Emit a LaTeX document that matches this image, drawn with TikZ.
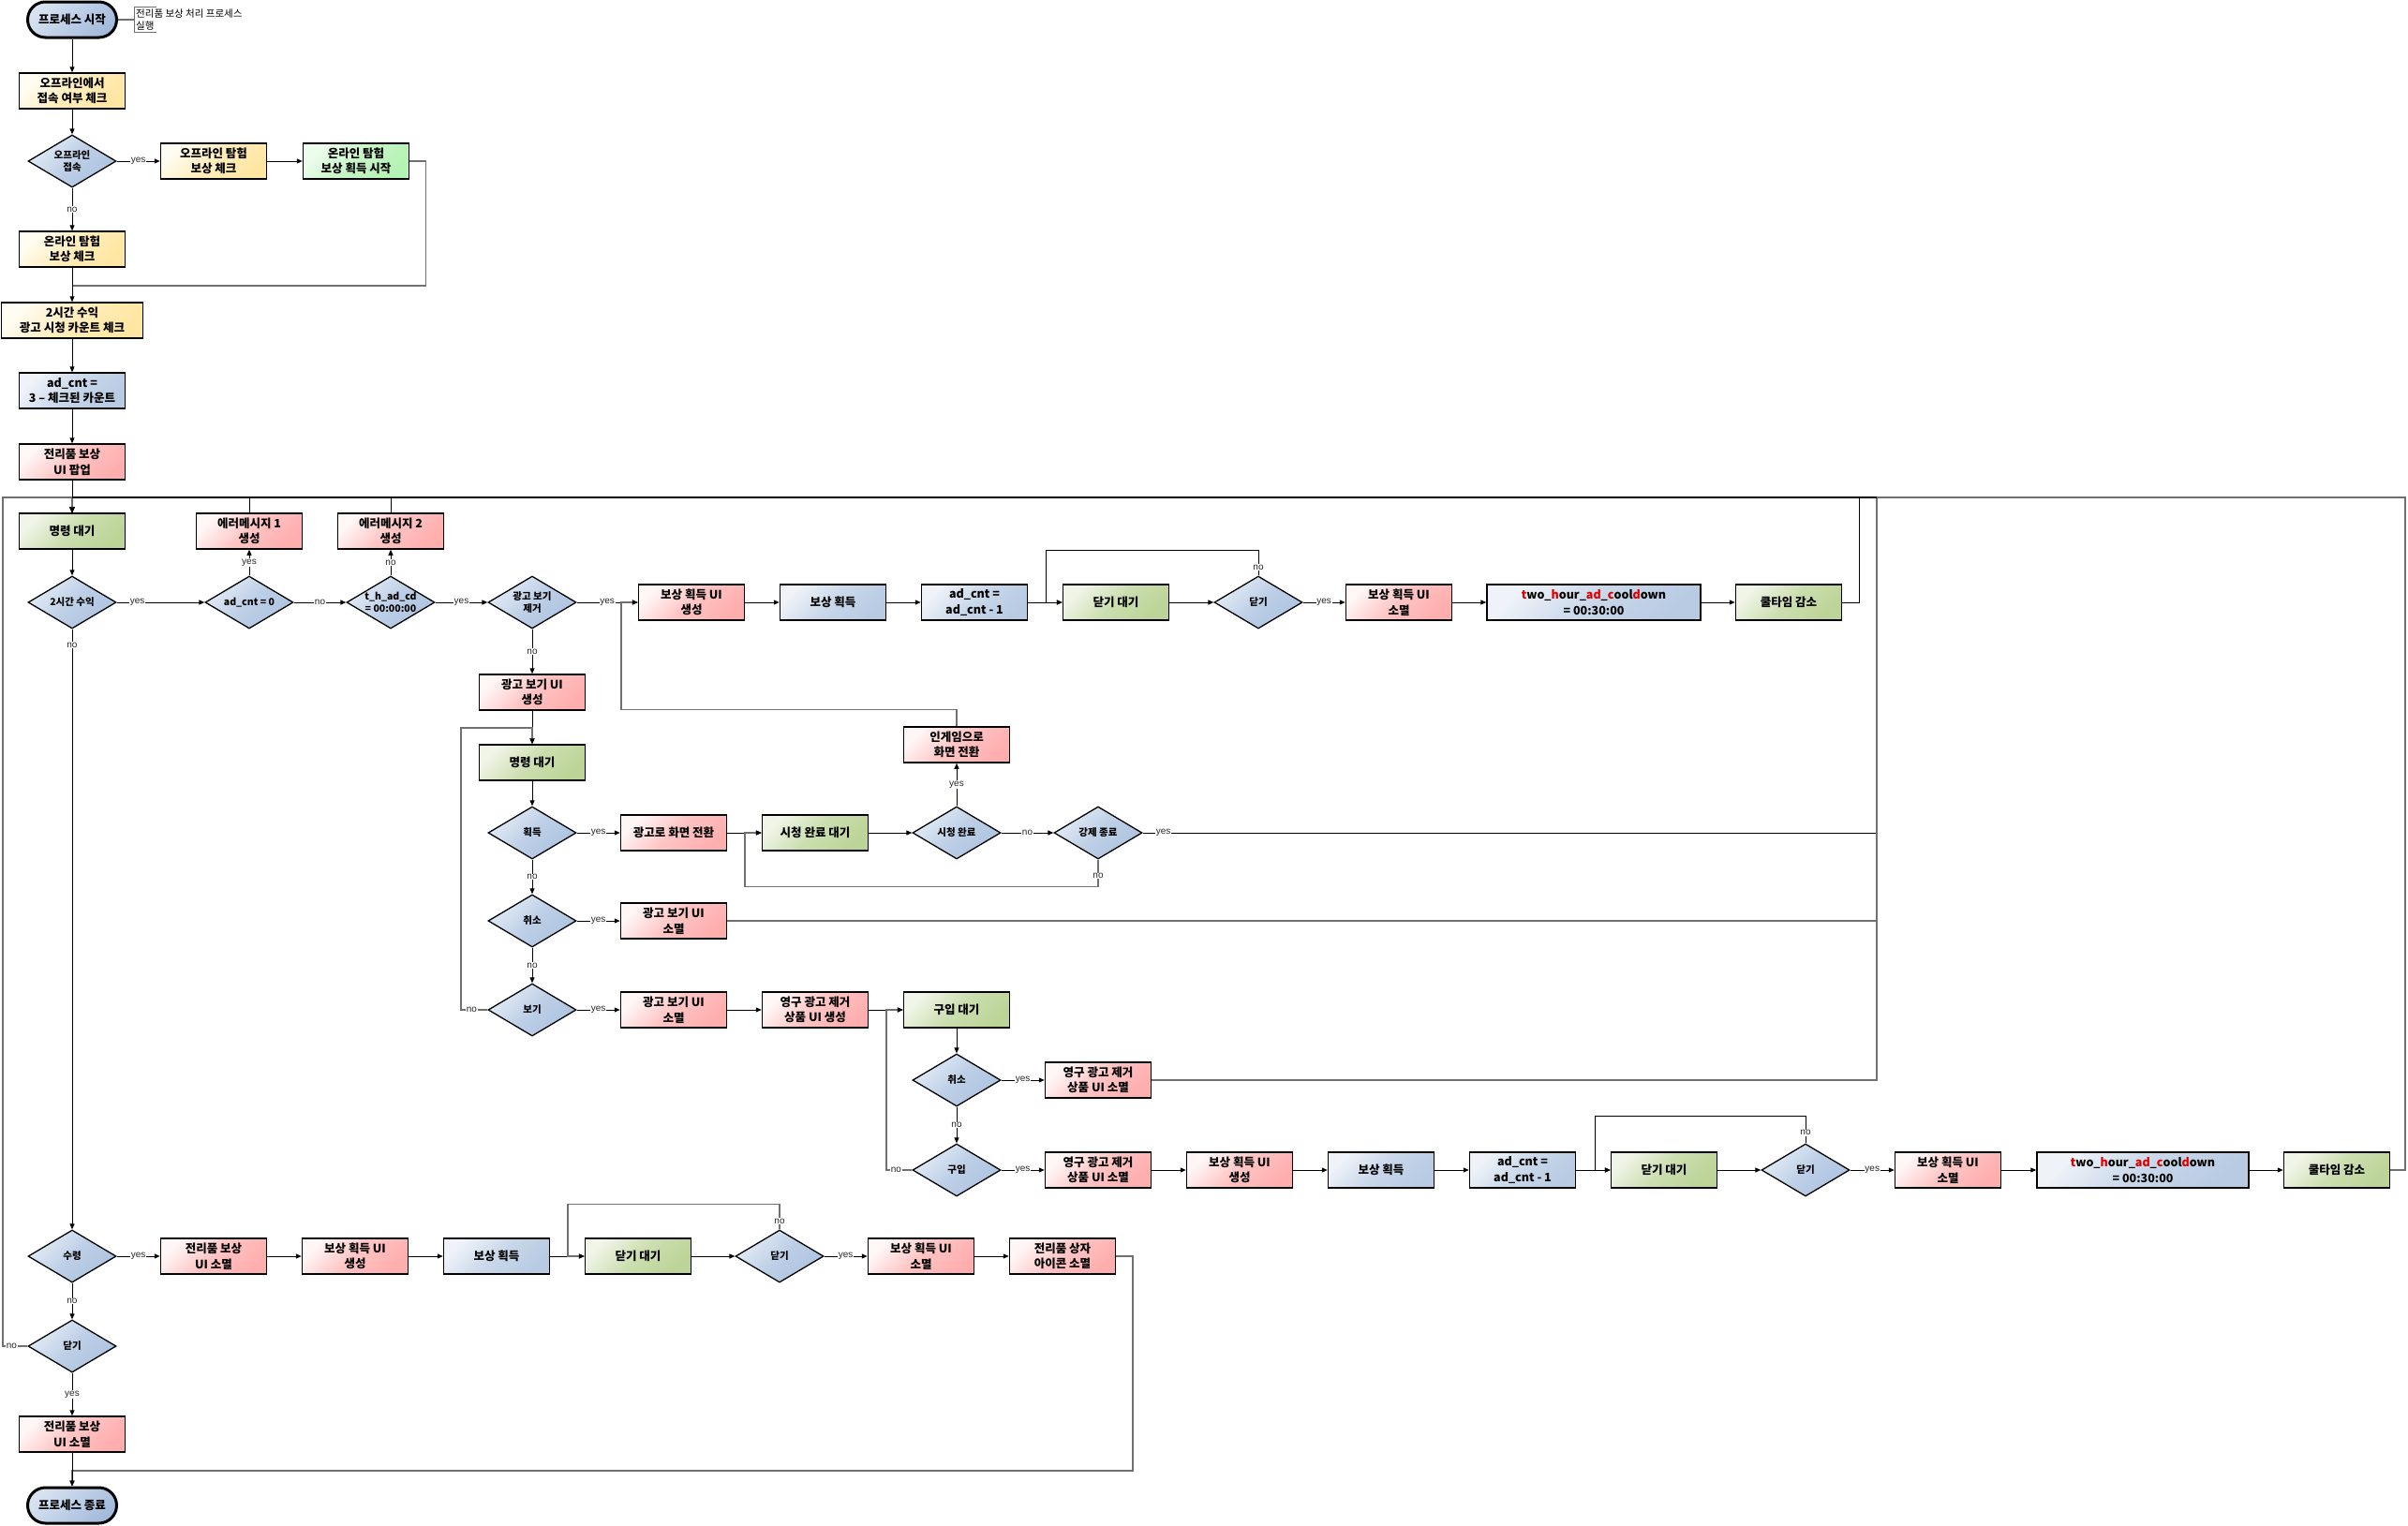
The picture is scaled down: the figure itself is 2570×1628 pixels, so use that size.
\documentclass[tikz,border=0pt]{standalone}
\usepackage{fontspec}
\usetikzlibrary{arrows.meta,shapes.geometric,calc}
\newfontfamily\kr{Noto Sans CJK KR}
\newfontfamily\lbf{Liberation Sans}
\definecolor{ylo1}{HTML}{FFFCF2}\definecolor{ylo2}{HTML}{FFE6A2}
\definecolor{grn1}{HTML}{EDFDED}\definecolor{grn2}{HTML}{B5F2B5}
\definecolor{olv1}{HTML}{F0F5E8}\definecolor{olv2}{HTML}{BCD497}
\definecolor{red1}{HTML}{FFF6F6}\definecolor{red2}{HTML}{FFAEAE}
\definecolor{blu1}{HTML}{EFF3F9}\definecolor{blu2}{HTML}{B8CBE3}
\definecolor{dia1}{HTML}{E4ECF6}\definecolor{dia2}{HTML}{ADC3E0}
\definecolor{ter1}{HTML}{D8E3F1}\definecolor{ter2}{HTML}{A4BADB}
\definecolor{cdred}{HTML}{E00000}
\definecolor{retc}{HTML}{707070}
\newcommand{\cdtxt}{\textcolor{cdred}{t}wo\_\textcolor{cdred}{h}our\_\textcolor{cdred}{ad}\_\textcolor{cdred}{c}ool\textcolor{cdred}{d}own}
\newcommand{\boxfont}{\kr\bfseries\fontsize{12.5}{16.5}\selectfont}
\newcommand{\diafont}{\kr\bfseries\fontsize{10.5}{13}\selectfont}
\tikzset{
  basebox/.style={rectangle, draw=black, line width=1.5pt, minimum width=113pt, minimum height=38pt,
    inner sep=1pt, align=center, font=\boxfont, text=black},
  ybox/.style={basebox, top color=ylo1, bottom color=ylo2, middle color=ylo2!70!ylo1, shading angle=45},
  gbox/.style={basebox, top color=grn1, bottom color=grn2, middle color=grn2!70!grn1, shading angle=45},
  obox/.style={basebox, top color=olv1, bottom color=olv2, middle color=olv2!70!olv1, shading angle=45},
  rbox/.style={basebox, top color=red1, bottom color=red2, middle color=red2!70!red1, shading angle=45},
  bbox/.style={basebox, top color=blu1, bottom color=blu2, middle color=blu2!70!blu1, shading angle=45},
  dia/.style={diamond, draw=black, line width=1.3pt, minimum width=94pt, minimum height=56pt,
    inner sep=0pt, shape aspect=1.68, align=center, font=\diafont, text=black,
    top color=dia1, bottom color=dia2, middle color=dia2!70!dia1, shading angle=45},
  term/.style={rectangle, rounded corners=19pt, draw=black, line width=3pt, minimum width=95pt,
    minimum height=38pt, align=center, font=\boxfont, text=black,
    top color=ter1, bottom color=ter2, shading angle=45},
  notebox/.style={inner sep=2pt, align=left, font=\kr\fontsize{10.5}{13}\selectfont, text=black},
  arr/.style={-{Triangle[length=6pt,width=5pt,color=black]}, line width=1pt, black},
  ret/.style={-{Triangle[length=6pt,width=5pt,color=black]}, line width=1.2pt, retc},
  plain/.style={line width=1.2pt, retc},
  lab/.style={font=\lbf\fontsize{10}{11}\selectfont, fill=white, inner sep=0.6pt, text=black!85},
  bus/.style={line width=2.6pt, black}
}
\begin{document}
\begin{tikzpicture}[x=1pt,y=-1pt]
\useasboundingbox (0,0) rectangle (2570,1628);
\fill[white] (0,0) rectangle (2570,1628);
% ---------- nodes ----------
\node[term] (start) at (77,21) {프로세스 시작};
\node[notebox, anchor=west] (note) at (143,21) {전리품 보상 처리 프로세스\\실행};
\node[ybox] (chk1) at (77,97) {오프라인에서\\접속 여부 체크};
\node[dia] (doff) at (77,172) {오프라인\\접속};
\node[ybox] (offchk) at (228,172) {오프라인 탐험\\보상 체크};
\node[gbox] (onstart) at (380,172) {온라인 탐험\\보상 획득 시작};
\node[ybox] (onchk) at (77,266) {온라인 탐험\\보상 체크};
\node[ybox, minimum width=151pt] (cnt) at (77,342) {2시간 수익\\광고 시청 카운트 체크};
\node[bbox] (adcnt) at (77,417) {ad\_cnt =\\3 – 체크된 카운트};
\node[rbox] (popup) at (77,493) {전리품 보상\\UI 팝업};
\node[obox] (cmdA) at (77,567) {명령 대기};
\node[rbox] (err1) at (266,567) {에러메시지 1\\생성};
\node[rbox] (err2) at (417,567) {에러메시지 2\\생성};
\node[dia] (d2h) at (77,643) {2시간 수익};
\node[dia] (dad0) at (266,643) {ad\_cnt = 0};
\node[dia] (dcd) at (417,643) {t\_h\_ad\_cd\\= 00:00:00};
\node[dia] (drm) at (568,643) {광고 보기\\제거};
\node[rbox] (rewui1) at (738,643) {보상 획득 UI\\생성};
\node[bbox] (rew1) at (889,643) {보상 획득};
\node[bbox] (dec1) at (1040,643) {ad\_cnt =\\ad\_cnt - 1};
\node[obox] (closew1) at (1191,643) {닫기 대기};
\node[dia] (dclose1) at (1343,643) {닫기};
\node[rbox] (rmui1) at (1493,643) {보상 획득 UI\\소멸};
\node[bbox, minimum width=228pt] (cd1) at (1701,643) {\cdtxt\\= 00:30:00};
\node[obox] (cool1) at (1909,643) {쿨타임 감소};
\node[rbox] (adui) at (568,739) {광고 보기 UI\\생성};
\node[obox] (cmdB) at (568,814) {명령 대기};
\node[rbox] (ingame) at (1021,795) {인게임으로\\화면 전환};
\node[dia] (dget) at (568,889) {획득};
\node[rbox] (adscr) at (719,889) {광고로 화면 전환};
\node[obox] (watchw) at (870,889) {시청 완료 대기};
\node[dia] (dwatch) at (1021,889) {시청 완료};
\node[dia] (dforce) at (1172,889) {강제 종료};
\node[dia] (dcan1) at (568,983) {취소};
\node[rbox] (aduirm1) at (719,983) {광고 보기 UI\\소멸};
\node[dia] (dview) at (568,1078) {보기};
\node[rbox] (aduirm2) at (719,1078) {광고 보기 UI\\소멸};
\node[rbox] (permui) at (870,1078) {영구 광고 제거\\상품 UI 생성};
\node[obox] (buyw) at (1021,1078) {구입 대기};
\node[dia] (dcan2) at (1021,1153) {취소};
\node[rbox] (permrm1) at (1172,1153) {영구 광고 제거\\상품 UI 소멸};
\node[dia] (dbuy) at (1021,1249) {구입};
\node[rbox] (permrm2) at (1172,1249) {영구 광고 제거\\상품 UI 소멸};
\node[rbox] (rewui2) at (1323,1249) {보상 획득 UI\\생성};
\node[bbox] (rew2) at (1474,1249) {보상 획득};
\node[bbox] (dec2) at (1625,1249) {ad\_cnt =\\ad\_cnt - 1};
\node[obox] (closew2) at (1776,1249) {닫기 대기};
\node[dia] (dclose2) at (1927,1249) {닫기};
\node[rbox] (rmui2) at (2079,1249) {보상 획득 UI\\소멸};
\node[bbox, minimum width=226pt] (cd2) at (2287,1249) {\cdtxt\\= 00:30:00};
\node[obox] (cool2) at (2494,1249) {쿨타임 감소};
\node[dia] (drecv) at (77,1341) {수령};
\node[rbox] (lootrm) at (228,1341) {전리품 보상\\UI 소멸};
\node[rbox] (rewui3) at (379,1341) {보상 획득 UI\\생성};
\node[bbox] (rew3) at (530,1341) {보상 획득};
\node[obox] (closew3) at (681,1341) {닫기 대기};
\node[dia] (dclose3) at (832,1341) {닫기};
\node[rbox] (rmui3) at (983,1341) {보상 획득 UI\\소멸};
\node[rbox] (chestrm) at (1134,1341) {전리품 상자\\아이콘 소멸};
\node[dia] (dclose4) at (77,1437) {닫기};
\node[rbox] (lootrm2) at (77,1531) {전리품 보상\\UI 소멸};
\node[term] (end) at (77,1607) {프로세스 종료};
% ---------- junction coordinates ----------
\coordinate (m1) at (77,305);
\coordinate (top) at (77,531);
\coordinate (mB) at (568,777);
\coordinate (mend) at (77,1570);
\coordinate (j1) at (1116,643);
\coordinate (j2) at (663,643);
\coordinate (j3) at (795,889);
\coordinate (j4) at (946,1078);
\coordinate (j5) at (1702,1249);
\coordinate (j6) at (606,1341);
% ---------- note ----------
\draw[plain] (start) -- (note.west);
\draw[line width=1pt, retc] ($(note.north west)+(24,0)$) -- (note.north west) -- (note.south west) -- ++(24,0);
% ---------- connectors ----------
\draw[arr] (start) -- (chk1);
\draw[arr] (chk1) -- (doff);
\draw[arr] (doff) -- node[lab]{yes} (offchk);
\draw[arr] (offchk) -- (onstart);
\draw[arr] (doff) -- node[lab]{no} (onchk);
\draw[plain] (onstart.east) -- ++(17,0) |- (m1);
\draw[arr] (onchk) -- (cnt);
\draw[arr] (cnt) -- (adcnt);
\draw[arr] (adcnt) -- (popup);
\draw[arr] (popup) -- (cmdA);
\draw[arr] (cmdA) -- (d2h);
\draw[arr] (d2h) -- node[lab, at start, xshift=22pt]{yes} (dad0);
\draw[arr] (dad0) -- node[lab]{no} (dcd);
\draw[arr] (dcd) -- node[lab]{yes} (drm);
\draw[arr] (drm) -- node[lab]{yes} (rewui1);
\draw[arr] (dad0) -- node[lab]{yes} (err1);
\draw[arr] (dcd) -- node[lab]{no} (err2);
\draw[arr] (err1) |- (top) -- (cmdA);
\draw[arr] (err2) |- (top) -- (cmdA);
\draw[arr] (rewui1) -- (rew1);
\draw[arr] (rew1) -- (dec1);
\draw[arr] (dec1) -- (closew1);
\draw[arr] (closew1) -- (dclose1);
\draw[arr] (dclose1) -- node[lab]{yes} (rmui1);
\draw[arr] (dclose1.north) -- node[lab, pos=0.33]{no} ++(0,-27) -| (j1) -- (closew1);
\draw[arr] (rmui1) -- (cd1);
\draw[arr] (cd1) -- (cool1);
\draw[arr] (cool1.east) -- ++(18,0) |- (top) -- (cmdA);
\draw[arr] (drm) -- node[lab]{no} (adui);
\draw[arr] (adui) -- (cmdB);
\draw[arr] (cmdB) -- (dget);
\draw[arr] (dget) -- node[lab]{yes} (adscr);
\draw[arr] (adscr) -- (watchw);
\draw[arr] (watchw) -- (dwatch);
\draw[arr] (dwatch) -- node[lab]{no} (dforce);
\draw[arr] (dwatch) -- node[lab]{yes} (ingame);
\draw[ret] (ingame.north) -- ++(0,-18) -| (j2) -- (rewui1);
\draw[arr] (dforce) -- node[lab, at start, xshift=22pt]{yes} (2003,889) |- (top) -- (cmdA);
\draw[ret] (dforce.south) -- node[lab, pos=0.6]{no} ++(0,29) -| (j3) -- (watchw);
\draw[arr] (dget) -- node[lab]{no} (dcan1);
\draw[arr] (dcan1) -- node[lab]{yes} (aduirm1);
\draw[ret] (aduirm1) -- (2003,983) |- (top) -- (cmdA);
\draw[arr] (dcan1) -- node[lab]{no} (dview);
\draw[arr] (dview) -- node[lab]{yes} (aduirm2);
\draw[ret] (dview.west) -- node[lab, at start, xshift=-17pt]{no} (492,1078) |- (mB) -- (cmdB);
\draw[arr] (aduirm2) -- (permui);
\draw[arr] (permui) -- (buyw);
\draw[arr] (buyw) -- (dcan2);
\draw[arr] (dcan2) -- node[lab]{yes} (permrm1);
\draw[ret] (permrm1) -- (2003,1153) |- (top) -- (cmdA);
\draw[arr] (dcan2) -- node[lab]{no} (dbuy);
\draw[arr] (dbuy) -- node[lab]{yes} (permrm2);
\draw[ret] (dbuy.west) -- node[lab, at start, xshift=-17pt]{no} (946,1249) -- (j4) -- (buyw);
\draw[arr] (permrm2) -- (rewui2);
\draw[arr] (rewui2) -- (rew2);
\draw[arr] (rew2) -- (dec2);
\draw[arr] (dec2) -- (closew2);
\draw[arr] (closew2) -- (dclose2);
\draw[arr] (dclose2) -- node[lab]{yes} (rmui2);
\draw[arr] (dclose2.north) -- node[lab, pos=0.38]{no} ++(0,-29) -| (j5) -- (closew2);
\draw[arr] (rmui2) -- (cd2);
\draw[arr] (cd2) -- (cool2);
\draw[ret] (cool2.east) -- (2567,1249) |- (top) -- (cmdA);
\draw[arr] (d2h) -- node[lab, at start, yshift=-17pt]{no} (drecv);
\draw[arr] (drecv) -- node[lab]{yes} (lootrm);
\draw[arr] (lootrm) -- (rewui3);
\draw[arr] (rewui3) -- (rew3);
\draw[arr] (rew3) -- (closew3);
\draw[arr] (closew3) -- (dclose3);
\draw[arr] (dclose3) -- node[lab]{yes} (rmui3);
\draw[ret] (dclose3.north) -- node[lab, pos=0.33]{no} ++(0,-27) -| (j6) -- (closew3);
\draw[arr] (rmui3) -- (chestrm);
\draw[ret] (chestrm.east) -- (1209,1341) |- (mend) -- (end);
\draw[arr] (drecv) -- node[lab]{no} (dclose4);
\draw[arr] (dclose4) -- node[lab]{yes} (lootrm2);
\draw[arr] (lootrm2) -- (end);
\draw[ret] (dclose4.west) -- node[lab, at start, xshift=-17pt]{no} (3,1437) |- (top) -- (cmdA);
% ---------- shared top line ----------
\draw[bus] (top) -- (2003,531);
\end{tikzpicture}
\end{document}
